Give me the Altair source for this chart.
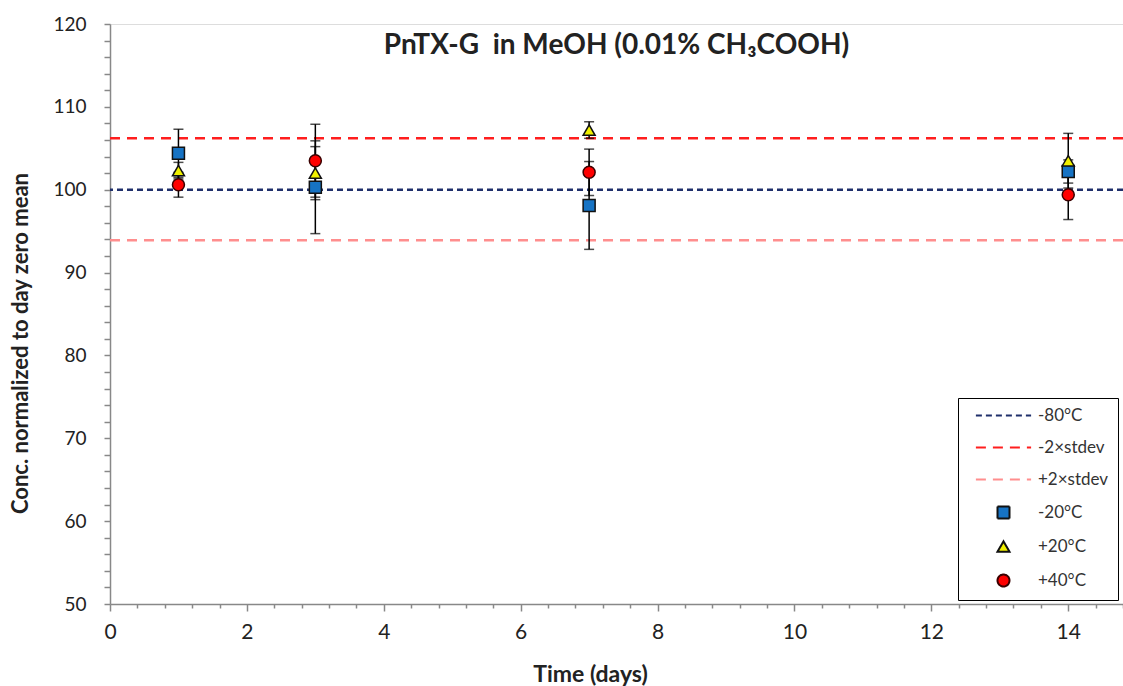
import altair as alt
import pandas as pd

# Storage time points (days)
days = [1, 3, 7, 14]

# Normalised concentration (% of day-zero mean) and error bar half-widths
minus20 = [104.4, 100.3, 98.1, 102.2]
minus20_err = [2.9, 5.6, 5.3, 1.4]
plus20 = [102.3, 102.0, 107.2, 103.5]
plus20_err = [1.0, 3.2, 1.0, 3.3]
plus40 = [100.6, 103.5, 102.1, 99.4]
plus40_err = [1.5, 4.4, 2.8, 3.0]

series_names = ["-20°C", "+20°C", "+40°C"]

# Reference levels: -80 °C mean and the +/- 2 x stdev limits
ref_names = ["-80°C", "-2×stdev", "+2×stdev"]
ref_levels = [100.0, 106.2, 93.9]

x_tick_values = [round(i * 0.4, 1) for i in range(38)]
y_tick_values = list(range(50, 121, 2))

FONT = "Lato"

rows = []
for name, vals, errs in zip(series_names, [minus20, plus20, plus40],
                            [minus20_err, plus20_err, plus40_err]):
    for d, v, e in zip(days, vals, errs):
        rows.append({"day": d, "value": v, "lo": round(v - e, 2),
                     "hi": round(v + e, 2), "series": name})
points = pd.DataFrame(rows)
refs = pd.DataFrame({"level": ref_levels, "series": ref_names})

domain = ref_names + series_names
stroke_range = ["#1F2F6B", "#FF1E1E", "#FF8E8E", "#111111", "#111111", "#3A0000"]
fill_range = ["transparent"] * 3 + ["#1673C4", "#F0F000", "#FF0000"]
line_glyph = "M-4.6,0H4.6"
shape_range = [line_glyph] * 3 + ["square", "triangle-up", "circle"]
dash_range = [[6, 4], [10, 7], [10, 7], [1, 0], [1, 0], [1, 0]]

legend = alt.Legend(
    title=None, orient="none", legendX=848, legendY=374,
    strokeColor="black", fillColor="white", padding=9,
    labelFont=FONT, labelFontSize=17, labelColor="#333333",
    symbolSize=144, symbolStrokeWidth=2, rowPadding=14,
    symbolOffset=28, labelOffset=26,
)

stroke_scale = alt.Scale(domain=domain, range=stroke_range)
fill_scale = alt.Scale(domain=domain, range=fill_range)
shape_scale = alt.Scale(domain=domain, range=shape_range)
dash_scale = alt.Scale(domain=domain, range=dash_range)

x_scale = alt.Scale(domain=[0, 14.8], nice=False, zero=False)
y_scale = alt.Scale(domain=[50, 120], nice=False, zero=False)

x_axis = alt.Axis(
    values=x_tick_values,
    labelExpr="datum.value % 2 == 0 ? format(datum.value, 'd') : ''",
    title="Time (days)", titleFont=FONT, titleFontSize=23, titleFontWeight="bold",
    titleColor="#222222", titleX=480, titleY=70, titleBaseline="middle",
    titleAlign="center", labelFont=FONT, labelFontSize=21, labelColor="#222222",
    labelPadding=10, tickColor="#888888", tickWidth=1.5, domainColor="#888888",
    domainWidth=1.5, grid=False, labelFlush=False,
    tickSize={"condition": {"test": "datum.value % 2 == 0", "value": 7}, "value": 4},
)
y_axis = alt.Axis(
    values=y_tick_values, labelExpr="datum.value % 10 == 0 ? datum.label : ''",
    title="Conc. normalized to day zero mean", titleFont=FONT, titleFontSize=22,
    titleFontWeight="bold", titleColor="#222222", titleX=-90, titleY=319,
    titleAngle=270, titleAlign="center", titleBaseline="middle",
    labelFont=FONT, labelFontSize=19, labelColor="#222222", labelPadding=18,
    tickSize=6, tickColor="#888888", tickWidth=1.5, domainColor="#888888",
    domainWidth=1.5, grid=False,
)

X = alt.X("day:Q", scale=x_scale, axis=x_axis)

ref_lines = alt.Chart(refs).mark_rule(strokeWidth=2.5).encode(
    y=alt.Y("level:Q", scale=y_scale, axis=y_axis),
    stroke=alt.Stroke("series:N", scale=stroke_scale, legend=legend),
    strokeDash=alt.StrokeDash("series:N", scale=dash_scale, legend=legend),
)

error_bars = alt.Chart(points).mark_errorbar(
    ticks=True, size=10, thickness=1.5, color="black"
).encode(
    x=X,
    y=alt.Y("lo:Q", scale=y_scale, axis=y_axis),
    y2="hi:Q",
)

markers = alt.Chart(points).mark_point(filled=True, size=144, strokeWidth=1.5, opacity=1).encode(
    x=X,
    y=alt.Y("value:Q", scale=y_scale, axis=y_axis),
    shape=alt.Shape("series:N", scale=shape_scale, legend=legend),
    fill=alt.Fill("series:N", scale=fill_scale, legend=legend),
    stroke=alt.Stroke("series:N", scale=stroke_scale, legend=legend),
)

chart = alt.layer(ref_lines, error_bars, markers).properties(
    width=1013,
    height=580,
    autosize=alt.AutoSizeParams(type="none"),
    padding={"left": 110, "top": 24, "right": 0, "bottom": 82},
    title=alt.TitleParams(
        "PnTX-G\u00a0 in MeOH (0.01% CH₃COOH)", font=FONT, fontSize=28,
        fontWeight="bold", color="#222222", anchor="middle", frame="group",
        offset=-45,
    ),
).configure_view(stroke=None).configure_legend(strokeWidth=1.5).configure(background="white")

chart.save("out.html", embed_options={"renderer": "svg", "actions": False})
